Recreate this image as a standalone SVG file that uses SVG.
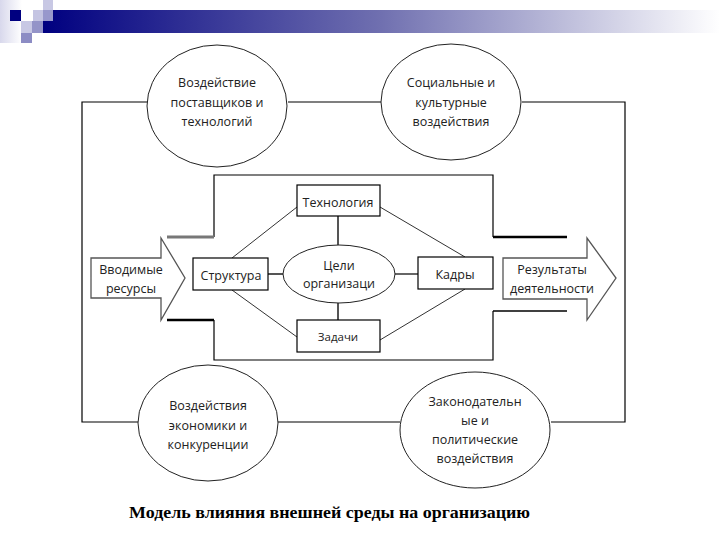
<svg xmlns="http://www.w3.org/2000/svg" width="720" height="540" viewBox="0 0 720 540">
<defs>
<linearGradient id="bar" x1="0" y1="0" x2="1" y2="0">
<stop offset="0" stop-color="#000080"/>
<stop offset="0.5" stop-color="#7070b0"/>
<stop offset="1" stop-color="#ffffff"/>
</linearGradient>
<linearGradient id="side" x1="0" y1="0" x2="1" y2="0">
<stop offset="0" stop-color="#d8d8ec"/>
<stop offset="1" stop-color="#ffffff"/>
</linearGradient>
</defs>
<style>
.ln{fill:none;stroke:#000;stroke-width:1.2}
.bx{fill:#fff;stroke:#000;stroke-width:1.2}
.el{fill:#fff;stroke:#222;stroke-width:1}
.cn{fill:none;stroke:#333;stroke-width:1}
.ar{fill:#fff;stroke:#555;stroke-width:1.3}
.t{font-family:"Open Sans","Noto Sans","DejaVu Sans",sans-serif;font-size:12.5px;fill:#222;text-anchor:middle}
.title{font-family:"Liberation Serif","Times New Roman",serif;font-size:16px;font-weight:bold;fill:#000}
</style>
<rect width="720" height="540" fill="#fff"/>
<g id="header">
<rect x="0" y="0" width="22" height="43" fill="url(#side)"/>
<rect x="43" y="10" width="677" height="23" fill="url(#bar)"/>
<rect x="10" y="10" width="11" height="11" fill="#000080"/>
<rect x="33" y="10" width="10" height="11" fill="#c4c4e2"/>
<rect x="43" y="0" width="10" height="10" fill="#c8c8e4"/>
<rect x="43" y="10" width="10" height="11" fill="#9898cc"/>
<rect x="21" y="21" width="11" height="12" fill="#c8c8e4"/>
<rect x="32" y="21" width="11" height="12" fill="#9494c8"/>
<rect x="21" y="33" width="11" height="10" fill="#8c8cc4"/>
</g>
<g id="connectors">
<path class="ln" d="M148 102H82V422H138"/>
<path class="ln" d="M288 102H381"/>
<path class="ln" d="M522 102H625V422H551"/>
<path class="ln" d="M278 422H400"/>
<path class="ln" d="M214 237V175H493V237"/>
<path class="ln" d="M214 320V360H493V311"/>
<path d="M167 237H214" stroke="#777" stroke-width="3" fill="none"/>
<path d="M167 320H214" stroke="#000" stroke-width="2.5" fill="none"/>
<path d="M493 237H567" stroke="#000" stroke-width="2.5" fill="none"/>
<path d="M493 311H567" stroke="#000" stroke-width="1.5" fill="none"/>
<path d="M338 216V245" stroke="#555" stroke-width="2" fill="none"/>
<path d="M338 303V320" stroke="#555" stroke-width="2" fill="none"/>
<path d="M268 274H283" stroke="#555" stroke-width="2" fill="none"/>
<path d="M395 274H418" stroke="#000" stroke-width="1.2" fill="none"/>
<path class="cn" d="M232 258L297 207"/>
<path class="cn" d="M232 290L297 337"/>
<path class="cn" d="M380 207L465 257"/>
<path class="cn" d="M380 340L465 289"/>
</g>
<g id="e1"><ellipse class="el" cx="217" cy="106" rx="70" ry="61"/>
<text class="t" x="217" y="87">Воздействие</text><text class="t" x="217" y="107">поставщиков и</text><text class="t" x="217" y="126">технологий</text></g>
<g id="e2"><ellipse class="el" cx="451" cy="102" rx="70" ry="58"/>
<text class="t" x="451" y="87">Социальные и</text><text class="t" x="451" y="107">культурные</text><text class="t" x="451" y="126">воздействия</text></g>
<g id="e3"><ellipse class="el" cx="208" cy="423" rx="70" ry="58"/>
<text class="t" x="208" y="410">Воздействия</text><text class="t" x="208" y="430">экономики и</text><text class="t" x="208" y="449">конкуренции</text></g>
<g id="e4"><ellipse class="el" cx="475" cy="430" rx="75" ry="58"/>
<text class="t" x="475" y="406">Законодательн</text><text class="t" x="475" y="425">ые и</text><text class="t" x="475" y="444">политические</text><text class="t" x="475" y="463">воздействия</text></g>
<g id="in"><path class="ar" d="M91 258H161V238L185 278L161 320V298H91Z"/>
<text class="t" x="131" y="274">Вводимые</text><text class="t" x="131" y="293">ресурсы</text></g>
<g id="out"><path class="ar" d="M503 258H587V238L616 278L587 320V299H503Z"/>
<text class="t" x="552" y="274">Результаты</text><text class="t" x="552" y="293">деятельности</text></g>
<g id="struct"><rect class="bx" x="193" y="258" width="75" height="32"/><text class="t" x="231" y="280">Структура</text></g>
<g id="tech"><rect class="bx" x="297" y="185" width="83" height="31"/><text class="t" x="338" y="207">Технология</text></g>
<g id="goals"><ellipse class="el" cx="339" cy="274" rx="56" ry="29"/><text class="t" x="339" y="270">Цели</text><text class="t" x="339" y="288">организаци</text></g>
<g id="tasks"><rect class="bx" x="297" y="320" width="83" height="32"/><text class="t" x="338" y="341" style="font-size:11.5px">Задачи</text></g>
<g id="staff"><rect class="bx" x="418" y="257" width="75" height="32"/><text class="t" x="455" y="279">Кадры</text></g>
<text class="title" x="129" y="518" textLength="401" lengthAdjust="spacingAndGlyphs">Модель влияния внешней среды на организацию</text>
</svg>
